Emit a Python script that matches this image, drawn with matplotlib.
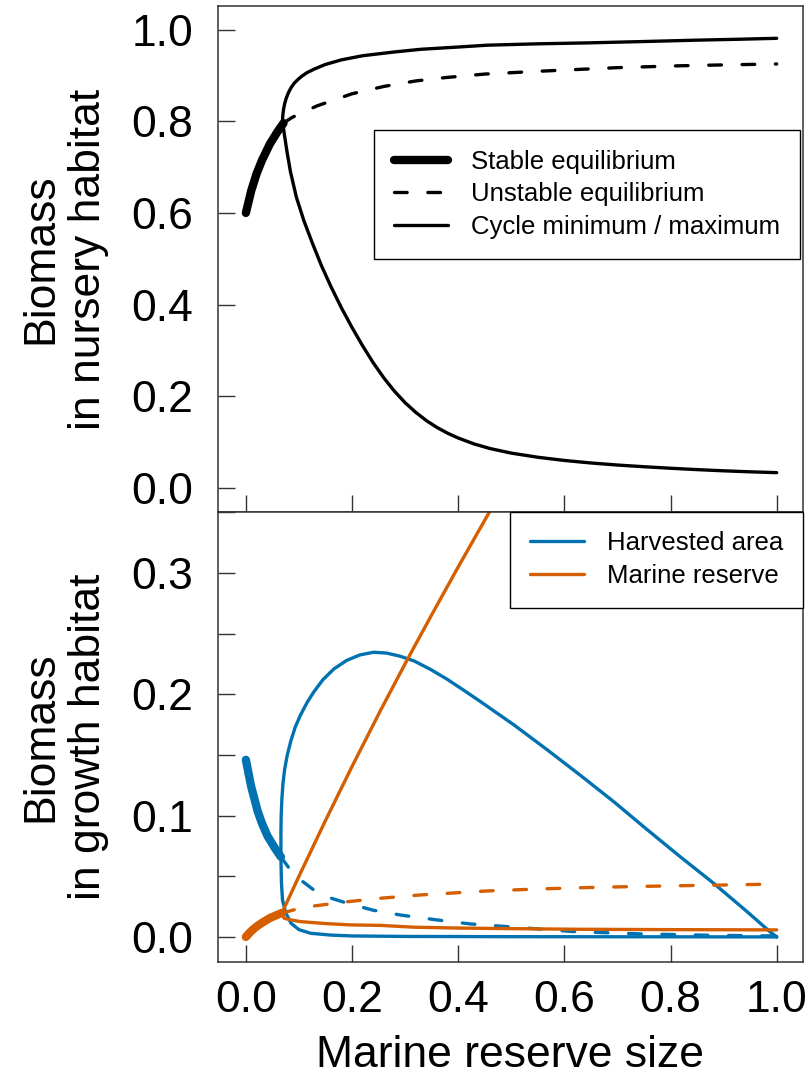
import matplotlib
matplotlib.use('Agg')
import matplotlib.pyplot as plt
from matplotlib.ticker import MultipleLocator

plt.rcParams['font.family'] = ['Liberation Sans', 'DejaVu Sans']

# ---- top panel: nursery habitat ----
stable_x = [0.0, 0.01, 0.02, 0.03, 0.045, 0.06, 0.071]
stable_y = [0.600, 0.648, 0.685, 0.714, 0.750, 0.778, 0.796]

unstable_x = [0.071, 0.085, 0.1, 0.135, 0.2, 0.26, 0.32, 0.373, 0.45, 0.55, 0.624, 0.7, 0.815, 0.9, 1.0]
unstable_y = [0.796, 0.807, 0.816, 0.834, 0.860, 0.876, 0.888, 0.895, 0.903, 0.909, 0.913, 0.917, 0.921, 0.923, 0.925]

cyc_max_x = [0.069, 0.0695, 0.071, 0.073, 0.076, 0.08, 0.085, 0.091, 0.097, 0.105, 0.115, 0.129, 0.15, 0.18,
             0.22, 0.278, 0.329, 0.4, 0.455, 0.55, 0.643, 0.75, 0.85, 0.93, 1.0]
cyc_max_y = [0.800, 0.812, 0.826, 0.838, 0.850, 0.862, 0.873, 0.883, 0.890, 0.898, 0.906, 0.914, 0.924, 0.934,
             0.943, 0.951, 0.957, 0.962, 0.966, 0.969, 0.971, 0.974, 0.977, 0.979, 0.981]

cyc_min_x = [0.069, 0.0705, 0.072, 0.078, 0.084, 0.095, 0.109, 0.125, 0.142, 0.16, 0.18, 0.2, 0.22, 0.24,
             0.26, 0.28, 0.30, 0.32, 0.34, 0.36, 0.38, 0.40, 0.43, 0.46, 0.5, 0.55, 0.6, 0.65, 0.7, 0.75,
             0.8, 0.85, 0.9, 0.95, 1.0]
cyc_min_y = [0.800, 0.788, 0.775, 0.730, 0.690, 0.635, 0.584, 0.535, 0.486, 0.440, 0.393, 0.350, 0.310, 0.273,
             0.240, 0.211, 0.186, 0.165, 0.147, 0.132, 0.1195, 0.109, 0.096, 0.086, 0.076, 0.067, 0.060, 0.0545,
             0.050, 0.0463, 0.0430, 0.0400, 0.0374, 0.0352, 0.0334]

# ---- bottom panel: growth habitat ----
blue_stable_x = [0.0, 0.01, 0.022, 0.03, 0.041, 0.055, 0.066]
blue_stable_y = [0.146, 0.124, 0.104, 0.094, 0.083, 0.073, 0.066]

blue_unstable_x = [0.066, 0.0815, 0.1, 0.128, 0.16, 0.191, 0.24, 0.292, 0.36, 0.423, 0.492, 0.617, 0.743, 0.868, 1.0]
blue_unstable_y = [0.066, 0.0566, 0.048, 0.0387, 0.032, 0.0278, 0.022, 0.018, 0.014, 0.0107, 0.0085, 0.0044, 0.0025, 0.0014, 0.0008]

blue_max_x = [0.066, 0.066, 0.0665, 0.068, 0.070, 0.073, 0.078, 0.085, 0.093, 0.103, 0.115, 0.128, 0.145, 0.166,
              0.19, 0.215, 0.241, 0.265, 0.29, 0.317, 0.348, 0.379, 0.41, 0.442, 0.505, 0.567, 0.63, 0.693,
              0.755, 0.818, 0.881, 0.944, 0.987, 1.0]
blue_max_y = [0.066, 0.085, 0.100, 0.115, 0.127, 0.138, 0.150, 0.162, 0.173, 0.183, 0.193, 0.202, 0.212, 0.221,
              0.228, 0.2325, 0.2347, 0.2340, 0.2315, 0.2275, 0.2205, 0.2125, 0.2035, 0.194, 0.1748, 0.1545,
              0.1333, 0.1115, 0.0888, 0.0662, 0.0443, 0.0209, 0.0044, 0.0]

blue_min_x = [0.066, 0.067, 0.069, 0.075, 0.085, 0.1, 0.122, 0.16, 0.2, 0.3, 0.5, 0.75, 1.0]
blue_min_y = [0.066, 0.045, 0.0305, 0.020, 0.0113, 0.006, 0.003, 0.0015, 0.0008, 0.0004, 0.0002, 0.0001, 0.0]

orange_stable_x = [0.0, 0.01, 0.02, 0.03, 0.045, 0.058, 0.068]
orange_stable_y = [0.0, 0.0048, 0.0085, 0.0115, 0.0155, 0.018, 0.0198]

orange_unstable_x = [0.068, 0.08, 0.1, 0.128, 0.191, 0.254, 0.329, 0.455, 0.55, 0.643, 0.75, 0.831, 0.9, 1.0]
orange_unstable_y = [0.0198, 0.021, 0.0235, 0.0255, 0.029, 0.0319, 0.0346, 0.0379, 0.0395, 0.0407, 0.0417, 0.0423, 0.0428, 0.0436]

orange_max_x = [0.068, 0.1, 0.15, 0.2, 0.254, 0.304, 0.35, 0.4, 0.461, 0.48]
orange_max_y = [0.0198, 0.050, 0.096, 0.1405, 0.187, 0.2285, 0.2655, 0.305, 0.352, 0.3665]

orange_min_x = [0.068, 0.072, 0.085, 0.103, 0.15, 0.197, 0.254, 0.317, 0.4, 0.5, 0.63, 0.8, 1.0]
orange_min_y = [0.0198, 0.0154, 0.014, 0.0126, 0.011, 0.0099, 0.0095, 0.008, 0.0073, 0.0068, 0.0063, 0.006, 0.0058]

x_ticks = [0.0, 0.2, 0.4, 0.6, 0.8, 1.0]
top_yticks = [0.0, 0.2, 0.4, 0.6, 0.8, 1.0]
bot_yticks = [0.0, 0.1, 0.2, 0.3]

BLUE = '#0072B2'
ORANGE = '#D55E00'
SPINE = '#333333'
THIN = 2.4
THICK = 6.0
DASH = (3.8, 6.2)

fig = plt.figure(figsize=(8.09, 10.74), dpi=100)
ax1 = fig.add_axes([0.2698, 0.5236, 0.7224, 0.4706])
ax2 = fig.add_axes([0.2698, 0.1046, 0.7224, 0.4190])

# top panel
ax1.plot(stable_x, stable_y, color='black', lw=THICK, solid_capstyle='round', label='Stable equilibrium')
ax1.plot(unstable_x, unstable_y, color='black', lw=THIN, dashes=DASH, dash_capstyle='round',
         label='Unstable equilibrium')
ax1.plot(cyc_max_x[::-1] + cyc_min_x[1:], cyc_max_y[::-1] + cyc_min_y[1:], color='black', lw=THIN,
         solid_capstyle='round', solid_joinstyle='round', label='Cycle minimum / maximum')

# bottom panel (blue first, orange drawn over it)
ax2.plot(blue_stable_x, blue_stable_y, color=BLUE, lw=THICK, solid_capstyle='round')
ax2.plot(blue_unstable_x, blue_unstable_y, color=BLUE, lw=THIN, dashes=DASH, dash_capstyle='round')
ax2.plot(blue_max_x[::-1] + blue_min_x[1:], blue_max_y[::-1] + blue_min_y[1:], color=BLUE, lw=THIN,
         solid_capstyle='round', solid_joinstyle='round', label='Harvested area')
ax2.plot(orange_stable_x, orange_stable_y, color=ORANGE, lw=THICK, solid_capstyle='round')
ax2.plot(orange_unstable_x, orange_unstable_y, color=ORANGE, lw=THIN, dashes=DASH, dash_capstyle='round')
ax2.plot(orange_max_x[::-1] + orange_min_x[1:], orange_max_y[::-1] + orange_min_y[1:], color=ORANGE, lw=THIN,
         solid_capstyle='round', solid_joinstyle='round', label='Marine reserve')

ax1.set_xlim(-0.052, 1.049)
ax2.set_xlim(-0.052, 1.049)
ax1.set_ylim(-0.0517, 1.051)
ax2.set_ylim(-0.0204, 0.3506)

ax1.set_xticks(x_ticks)
ax1.set_xticklabels([])
ax2.set_xticks(x_ticks)
ax2.set_xticklabels([f"{v:.1f}" for v in x_ticks])
ax1.set_yticks(top_yticks)
ax1.set_yticklabels([f"{v:.1f}" for v in top_yticks])
ax2.set_yticks(bot_yticks)
ax2.set_yticklabels([f"{v:.1f}" for v in bot_yticks])
ax2.yaxis.set_minor_locator(MultipleLocator(0.05))

for ax in (ax1, ax2):
    for s in ax.spines.values():
        s.set_color(SPINE)
        s.set_linewidth(1.1)
    ax.tick_params(which='both', direction='in', length=12, width=1.0, color=SPINE,
                   labelsize=32, top=False, right=False)
    ax.tick_params(axis='y', pad=18)
    ax.tick_params(axis='x', pad=13)

ax1.set_ylabel("Biomass\nin nursery habitat", fontsize=32, linespacing=1.2)
ax2.set_ylabel("Biomass\nin growth habitat", fontsize=32, linespacing=1.2)
ax1.yaxis.set_label_coords(-0.1865, 0.5)
ax2.yaxis.set_label_coords(-0.1865, 0.5)
ax2.set_xlabel("Marine reserve size", fontsize=32)
ax2.xaxis.set_label_coords(0.5, -0.163)

leg_kw = dict(fontsize=18.5, frameon=True, fancybox=False, framealpha=1, edgecolor='black',
              handlelength=2.1, handletextpad=0.9, labelspacing=0.33, borderpad=0.77, borderaxespad=0)
leg1 = ax1.legend(loc='upper right', bbox_to_anchor=(0.9954, 0.7551), **leg_kw)
leg2 = ax2.legend(loc='upper right', bbox_to_anchor=(1.0, 1.0), **leg_kw)
for leg in (leg1, leg2):
    leg.get_frame().set_linewidth(1.0)

fig.savefig('out.png', dpi=100)
